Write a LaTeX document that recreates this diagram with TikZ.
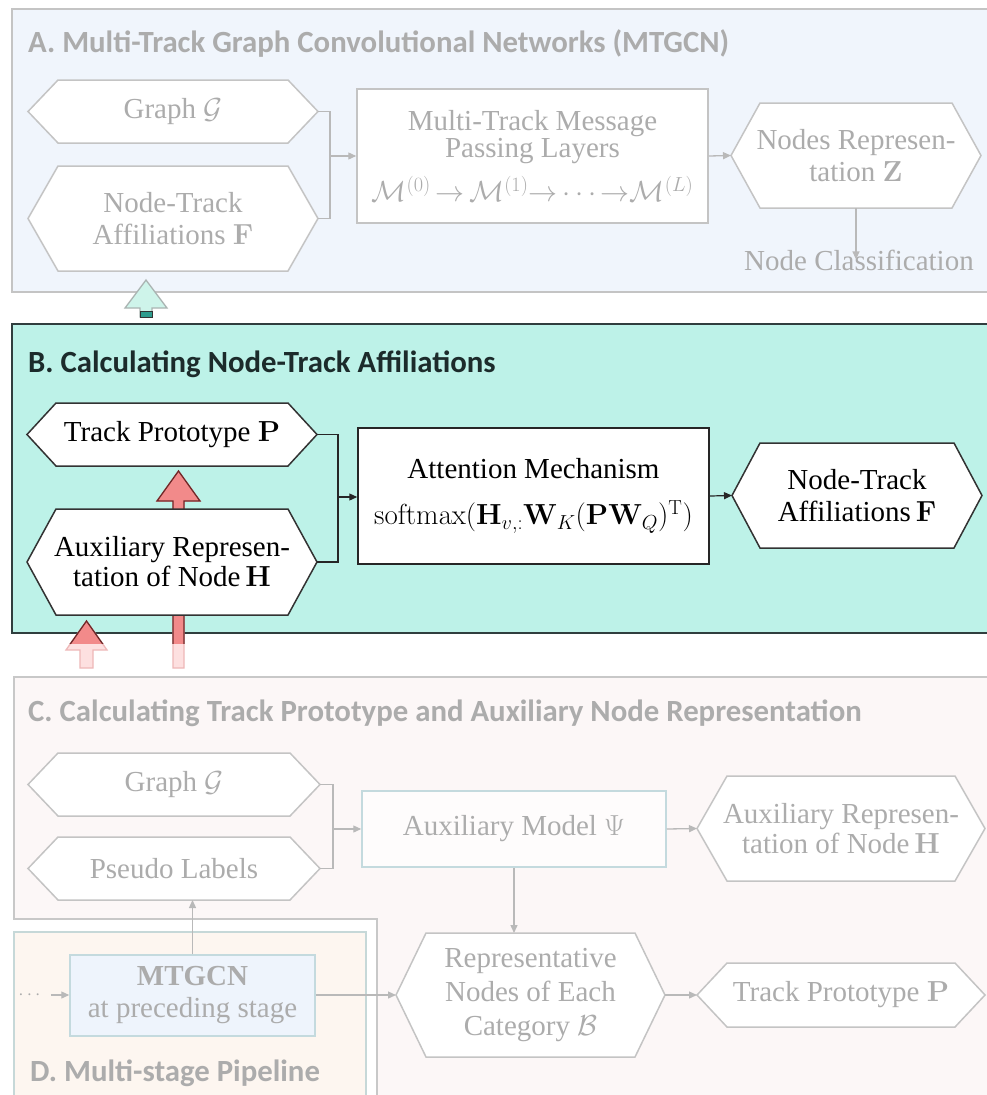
\RequirePackage{fix-cm}
\documentclass[tikz,border=0pt]{standalone}
\usepackage{amsmath}
\usepackage[no-math]{fontspec}
\setmainfont{Liberation Serif}
\newfontfamily\headfont{Carlito}
\usetikzlibrary{arrows.meta}

\definecolor{ftext}{RGB}{172,172,172}
\definecolor{fline}{RGB}{185,185,185}
\definecolor{hexgray}{RGB}{196,196,196}
\definecolor{panAfill}{RGB}{240,245,252}
\definecolor{panAline}{RGB}{196,196,196}
\definecolor{panBfill}{RGB}{189,242,232}
\definecolor{panBline}{RGB}{48,62,62}
\definecolor{panCfill}{RGB}{252,247,247}
\definecolor{panCline}{RGB}{200,200,200}
\definecolor{panDfill}{RGB}{253,246,240}
\definecolor{panDline}{RGB}{198,216,216}
\definecolor{boxline}{RGB}{196,218,222}
\definecolor{mtfill}{RGB}{238,244,252}
\definecolor{titleB}{RGB}{28,43,43}
\definecolor{redfill}{RGB}{242,138,138}
\definecolor{redline}{RGB}{110,40,40}
\definecolor{pinkfill}{RGB}{253,224,224}
\definecolor{pinkline}{RGB}{238,184,184}
\definecolor{tealhead}{RGB}{206,244,234}
\definecolor{tealline}{RGB}{170,180,178}
\definecolor{tealshaft}{RGB}{46,156,142}

\pgfdeclarelayer{panels}
\pgfdeclarelayer{blockarrows}
\pgfdeclarelayer{shapes}
\pgfsetlayers{panels,blockarrows,shapes,main}

\newcommand\mainsz{\fontsize{29}{32}\selectfont}
\newcommand\tightsz{\fontsize{29}{30}\selectfont}
\newcommand\headsz{\headfont\bfseries\fontsize{30.8}{32}\selectfont}

% hexagonal outline around a (borderless) rectangular node
\newcommand\hexaround[3]{%
  \begin{pgfonlayer}{shapes}
    \path[#1] (#2.west) -- ([xshift=#3]#2.north west) -- ([xshift=-#3]#2.north east)
      -- (#2.east) -- ([xshift=-#3]#2.south east) -- ([xshift=#3]#2.south west) -- cycle;
  \end{pgfonlayer}}

\tikzset{
  hexbox/.style={inner sep=0pt, outer sep=0pt, align=center, font=\mainsz},
  fhex/.style={fill=white, draw=hexgray, line width=1.5pt},
  dhex/.style={fill=white, draw=black!80, line width=1.5pt},
  fl/.style={draw=fline, line width=1.3pt},
  fa/.style={draw=fline, line width=1.3pt, -{Triangle[length=8pt,width=7pt]}},
  dl/.style={draw=black!85, line width=1.2pt},
  da/.style={draw=black!85, line width=1.2pt, -{Triangle[length=8pt,width=7pt]}},
  ptitle/.style={anchor=base west, inner sep=0pt, font=\headsz},
}

\begin{document}
\begin{tikzpicture}[x=1pt,y=-1pt]
\useasboundingbox (0,0) rectangle (986,1095);

% ---------- panels ----------
\begin{pgfonlayer}{panels}
  \fill[white] (0,0) rectangle (986,1095);
  \path[fill=panAfill, draw=panAline, line width=2pt] (995,9) -- (12,9) -- (12,292) -- (995,292);
  \path[fill=panBfill, draw=panBline, line width=2pt] (995,324) -- (12,324) -- (12,633) -- (995,633);
  \path[fill=panCfill, draw=panCline, line width=2pt]
    (995,677) -- (14,677) -- (14,919) -- (377,919) -- (377,1100);
  \fill[panCfill] (378,678) rectangle (995,1100);
  \path[fill=panDfill, draw=panDline, line width=2pt] (14,1100) -- (14,932) -- (366,932) -- (366,1100);
\end{pgfonlayer}

% ---------- block arrows between the panels ----------
\begin{pgfonlayer}{blockarrows}
  % B -> A
  \path[fill=tealhead, draw=tealline, line width=1.3pt]
    (146,280) -- (167,308) -- (152,308) -- (152,317) -- (140,317) -- (140,308) -- (125,308) -- cycle;
  \path[fill=tealshaft, draw=black!80, line width=1pt] (140,311) rectangle (152,317);
  % C -> B, faded part
  \path[fill=pinkfill, draw=pinkline, line width=1.3pt]
    (178.5,471) -- (200,501) -- (184,501) -- (184,668) -- (173,668) -- (173,501) -- (157,501) -- cycle;
  \path[fill=pinkfill, draw=pinkline, line width=1.3pt]
    (86.5,621) -- (107,650) -- (93,650) -- (93,668) -- (80,668) -- (80,650) -- (66,650) -- cycle;
  % C -> B, strong part
  \begin{scope}
    \clip (0,0) rectangle (986,643);
    \path[fill=redfill, draw=redline, line width=1.3pt]
      (178.5,471) -- (200,501) -- (184,501) -- (184,668) -- (173,668) -- (173,501) -- (157,501) -- cycle;
    \path[fill=redfill, draw=redline, line width=1.3pt]
      (86.5,621) -- (107,650) -- (93,650) -- (93,668) -- (80,668) -- (80,650) -- (66,650) -- cycle;
  \end{scope}
\end{pgfonlayer}

% ---------- A. MTGCN ----------
\node[ptitle, text=ftext] (tA) at (28,52) {A. Multi-Track Graph Convolutional Networks (MTGCN)};

\node[hexbox, text=ftext, minimum width=290, minimum height=63] (gA) at (173,111.5) {Graph $\mathcal{G}$};
\hexaround{fhex}{gA}{30}
\node[hexbox, text=ftext, minimum width=290, minimum height=105] (ntA) at (173,218.5)
  {Node-Track\\Affiliations $\mathbf{F}$};
\hexaround{fhex}{ntA}{30}

\node[draw=hexgray, line width=1.5pt, fill=white, minimum width=351, minimum height=134,
  inner sep=0pt, align=center, text=ftext, font=\fontsize{29}{27}\selectfont] (mp) at (532.5,156)
  {Multi-Track Message\\Passing Layers\\[11pt]
   $\mathcal{M}^{(0)}\,{\to}\,\mathcal{M}^{(1)}{\to}\,{\cdots}\,{\to}\mathcal{M}^{(L)}$};

\node[hexbox, text=ftext, minimum width=250, minimum height=105] (zA) at (856,155.5)
  {Nodes Represen-\\tation $\mathbf{Z}$};
\hexaround{fhex}{zA}{29}

\node[inner sep=0pt, text=ftext, font=\mainsz, anchor=base] (nc) at (859,270) {Node Classification};

\coordinate (jA) at (330,156);
\draw[fl] (gA.east) -| (jA);
\draw[fl] (ntA.east) -| (jA);
\draw[fa] (jA) -- (mp.west |- jA);
\draw[fa] (mp.east) -- (zA.west);
\draw[fa] (zA.south) -- ([yshift=-10pt]zA.south |- nc.north);

% ---------- B. Node-track affiliations ----------
\node[ptitle, text=titleB] (tB) at (28,372) {B. Calculating Node-Track Affiliations};

\node[hexbox, minimum width=290, minimum height=63] (tpB) at (172,434.5) {Track Prototype $\mathbf{P}$};
\hexaround{dhex}{tpB}{29}
\node[hexbox, font=\tightsz, minimum width=290, minimum height=106] (arB) at (172,562)
  {Auxiliary Represen-\\tation of Node\,$\mathbf{H}$};
\hexaround{dhex}{arB}{29}

\node[draw=black!85, line width=1.5pt, fill=white, minimum width=351, minimum height=136,
  inner sep=0pt, align=center, font=\mainsz] (att) at (533.5,496)
  {Attention Mechanism\\[14pt]
   $\mathrm{softmax}(\mathbf{H}_{v,:}\mathbf{W}_K(\mathbf{P}\mathbf{W}_Q)^{\mathrm{T}})$};

\node[hexbox, minimum width=250, minimum height=105] (ntB) at (857,495.5)
  {Node-Track\\Affiliations\,$\mathbf{F}$};
\hexaround{dhex}{ntB}{28}

\coordinate (jB) at (338,497);
\draw[dl] (tpB.east) -| (jB);
\draw[dl] (arB.east) -| (jB);
\draw[da] (jB) -- (att.west |- jB);
\draw[da] (att.east) -- (ntB.west);

% ---------- C. Track prototype and auxiliary representation ----------
\node[ptitle, text=ftext] (tC) at (28,721) {C. Calculating Track Prototype and Auxiliary Node Representation};

\node[hexbox, text=ftext, minimum width=292, minimum height=63] (gC) at (174,784.5) {Graph $\mathcal{G}$};
\hexaround{fhex}{gC}{30}
\node[hexbox, text=ftext, minimum width=292, minimum height=63] (plC) at (174,868.5) {Pseudo Labels};
\hexaround{fhex}{plC}{30}

\node[draw=boxline, line width=1.5pt, fill=white!60!panCfill, minimum width=304, minimum height=76,
  inner sep=0pt, text=ftext, font=\mainsz] (am) at (514,829) {Auxiliary Model $\Psi$};

\node[hexbox, font=\tightsz, text=ftext, minimum width=288, minimum height=105] (arC) at (841,828.5)
  {Auxiliary Represen-\\tation of Node\,$\mathbf{H}$};
\hexaround{fhex}{arC}{30}

\node[hexbox, font=\fontsize{29}{34}\selectfont, text=ftext, minimum width=269, minimum height=124] (rn) at (530.5,995)
  {Representative\\Nodes of Each\\Category $\mathcal{B}$};
\hexaround{fhex}{rn}{30}

\node[hexbox, text=ftext, minimum width=288, minimum height=64] (tpC) at (841,995) {Track Prototype $\mathbf{P}$};
\hexaround{fhex}{tpC}{30}

\coordinate (jC) at (333,829);
\draw[fl] (gC.east) -| (jC);
\draw[fl] (plC.east) -| (jC);
\draw[fa] (jC) -- (am.west |- jC);
\draw[fa] (am.east) -- (arC.west);
\draw[fa] (am.south) -- (am.south |- rn.north);
\draw[fa] (rn.east) -- (tpC.west);

% ---------- D. Multi-stage pipeline ----------
\node[ptitle, text=ftext] (tD) at (30,1081) {D. Multi-stage Pipeline};

\node[draw=boxline, line width=1.5pt, fill=mtfill, minimum width=245, minimum height=81,
  inner sep=0pt, align=center, text=ftext, font=\fontsize{29}{32}\selectfont] (mt) at (192.5,995.5)
  {\textbf{MTGCN}\\at preceding stage};

\node[inner sep=0pt, text=ftext, font=\fontsize{19}{20}\selectfont] (dots) at (31,995) {$\cdots$};
\draw[fa] ([xshift=7pt]dots.east) -- (mt.west |- dots);
\draw[fa] (mt.north) -- (mt.north |- plC.south);
\draw[fa] (mt.east |- rn.west) -- (rn.west);

\end{tikzpicture}
\end{document}
